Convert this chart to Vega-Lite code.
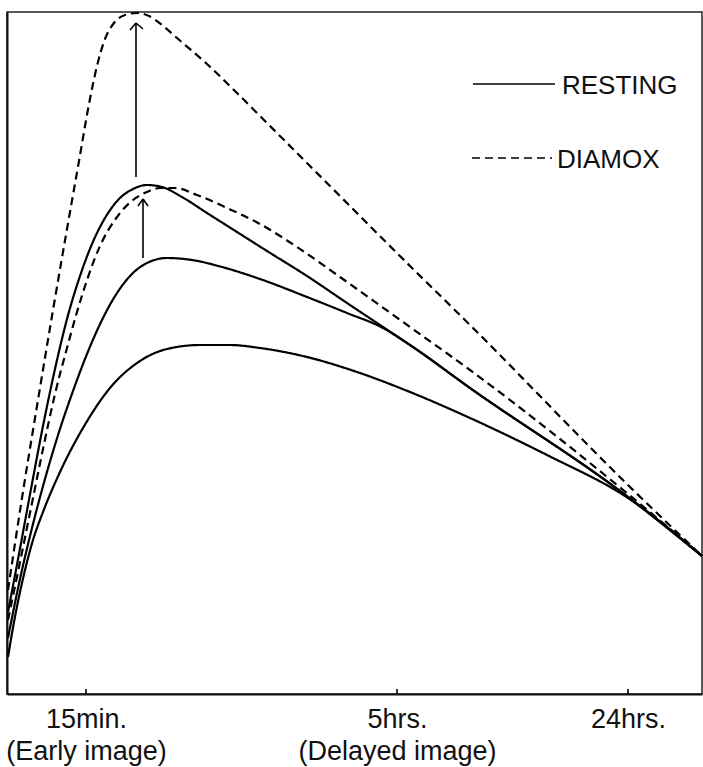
{
  "$schema": "https://vega.github.io/schema/vega-lite/v6.json",
  "width": 695,
  "height": 682,
  "autosize": {"type": "none"},
  "padding": {"left": 7, "top": 12, "right": 1, "bottom": 73},
  "background": "white",
  "config": {
    "view": {"stroke": "#222", "strokeWidth": 1.5},
    "font": "Liberation Sans"
  },
  "datasets": {
    "curves": [
      {"curve": "D1", "type": "DIAMOX", "x": 1, "y": 104},
      {"curve": "D1", "type": "DIAMOX", "x": 15, "y": 196},
      {"curve": "D1", "type": "DIAMOX", "x": 30, "y": 288},
      {"curve": "D1", "type": "DIAMOX", "x": 45, "y": 378},
      {"curve": "D1", "type": "DIAMOX", "x": 60, "y": 465},
      {"curve": "D1", "type": "DIAMOX", "x": 72, "y": 533},
      {"curve": "D1", "type": "DIAMOX", "x": 82, "y": 590},
      {"curve": "D1", "type": "DIAMOX", "x": 90, "y": 628},
      {"curve": "D1", "type": "DIAMOX", "x": 98, "y": 655},
      {"curve": "D1", "type": "DIAMOX", "x": 107, "y": 671},
      {"curve": "D1", "type": "DIAMOX", "x": 118, "y": 679},
      {"curve": "D1", "type": "DIAMOX", "x": 130, "y": 681},
      {"curve": "D1", "type": "DIAMOX", "x": 142, "y": 678},
      {"curve": "D1", "type": "DIAMOX", "x": 155, "y": 669},
      {"curve": "D1", "type": "DIAMOX", "x": 170, "y": 656},
      {"curve": "D1", "type": "DIAMOX", "x": 200, "y": 630},
      {"curve": "D1", "type": "DIAMOX", "x": 230, "y": 601},
      {"curve": "D1", "type": "DIAMOX", "x": 260, "y": 571},
      {"curve": "D1", "type": "DIAMOX", "x": 300, "y": 531},
      {"curve": "D1", "type": "DIAMOX", "x": 403, "y": 428},
      {"curve": "D1", "type": "DIAMOX", "x": 463, "y": 369},
      {"curve": "D1", "type": "DIAMOX", "x": 623, "y": 207},
      {"curve": "D1", "type": "DIAMOX", "x": 695, "y": 138},

      {"curve": "R1", "type": "RESTING", "x": 1, "y": 82},
      {"curve": "R1", "type": "RESTING", "x": 12, "y": 140},
      {"curve": "R1", "type": "RESTING", "x": 24, "y": 205},
      {"curve": "R1", "type": "RESTING", "x": 36, "y": 268},
      {"curve": "R1", "type": "RESTING", "x": 48, "y": 325},
      {"curve": "R1", "type": "RESTING", "x": 60, "y": 375},
      {"curve": "R1", "type": "RESTING", "x": 72, "y": 415},
      {"curve": "R1", "type": "RESTING", "x": 85, "y": 450},
      {"curve": "R1", "type": "RESTING", "x": 98, "y": 476},
      {"curve": "R1", "type": "RESTING", "x": 112, "y": 495},
      {"curve": "R1", "type": "RESTING", "x": 126, "y": 505},
      {"curve": "R1", "type": "RESTING", "x": 140, "y": 509},
      {"curve": "R1", "type": "RESTING", "x": 155, "y": 507},
      {"curve": "R1", "type": "RESTING", "x": 175, "y": 497},
      {"curve": "R1", "type": "RESTING", "x": 200, "y": 481},
      {"curve": "R1", "type": "RESTING", "x": 230, "y": 462},
      {"curve": "R1", "type": "RESTING", "x": 260, "y": 443},
      {"curve": "R1", "type": "RESTING", "x": 300, "y": 418},
      {"curve": "R1", "type": "RESTING", "x": 340, "y": 391},
      {"curve": "R1", "type": "RESTING", "x": 376, "y": 367},
      {"curve": "R1", "type": "RESTING", "x": 403, "y": 349},
      {"curve": "R1", "type": "RESTING", "x": 463, "y": 306},
      {"curve": "R1", "type": "RESTING", "x": 621, "y": 197},
      {"curve": "R1", "type": "RESTING", "x": 695, "y": 138},

      {"curve": "D2", "type": "DIAMOX", "x": 1, "y": 74},
      {"curve": "D2", "type": "DIAMOX", "x": 12, "y": 127},
      {"curve": "D2", "type": "DIAMOX", "x": 24, "y": 186},
      {"curve": "D2", "type": "DIAMOX", "x": 36, "y": 245},
      {"curve": "D2", "type": "DIAMOX", "x": 48, "y": 300},
      {"curve": "D2", "type": "DIAMOX", "x": 60, "y": 346},
      {"curve": "D2", "type": "DIAMOX", "x": 70, "y": 382},
      {"curve": "D2", "type": "DIAMOX", "x": 80, "y": 414},
      {"curve": "D2", "type": "DIAMOX", "x": 93, "y": 448},
      {"curve": "D2", "type": "DIAMOX", "x": 110, "y": 477},
      {"curve": "D2", "type": "DIAMOX", "x": 126, "y": 494},
      {"curve": "D2", "type": "DIAMOX", "x": 140, "y": 502},
      {"curve": "D2", "type": "DIAMOX", "x": 153, "y": 506},
      {"curve": "D2", "type": "DIAMOX", "x": 168, "y": 506},
      {"curve": "D2", "type": "DIAMOX", "x": 190, "y": 499},
      {"curve": "D2", "type": "DIAMOX", "x": 220, "y": 486},
      {"curve": "D2", "type": "DIAMOX", "x": 253, "y": 470},
      {"curve": "D2", "type": "DIAMOX", "x": 290, "y": 447},
      {"curve": "D2", "type": "DIAMOX", "x": 333, "y": 417},
      {"curve": "D2", "type": "DIAMOX", "x": 403, "y": 367},
      {"curve": "D2", "type": "DIAMOX", "x": 463, "y": 324},
      {"curve": "D2", "type": "DIAMOX", "x": 621, "y": 200},
      {"curve": "D2", "type": "DIAMOX", "x": 695, "y": 138},

      {"curve": "R2", "type": "RESTING", "x": 1, "y": 56},
      {"curve": "R2", "type": "RESTING", "x": 13, "y": 115},
      {"curve": "R2", "type": "RESTING", "x": 25, "y": 166},
      {"curve": "R2", "type": "RESTING", "x": 38, "y": 215},
      {"curve": "R2", "type": "RESTING", "x": 52, "y": 262},
      {"curve": "R2", "type": "RESTING", "x": 66, "y": 303},
      {"curve": "R2", "type": "RESTING", "x": 80, "y": 340},
      {"curve": "R2", "type": "RESTING", "x": 95, "y": 374},
      {"curve": "R2", "type": "RESTING", "x": 110, "y": 401},
      {"curve": "R2", "type": "RESTING", "x": 126, "y": 421},
      {"curve": "R2", "type": "RESTING", "x": 140, "y": 431},
      {"curve": "R2", "type": "RESTING", "x": 160, "y": 436},
      {"curve": "R2", "type": "RESTING", "x": 185, "y": 434},
      {"curve": "R2", "type": "RESTING", "x": 215, "y": 427},
      {"curve": "R2", "type": "RESTING", "x": 253, "y": 415},
      {"curve": "R2", "type": "RESTING", "x": 300, "y": 397},
      {"curve": "R2", "type": "RESTING", "x": 340, "y": 381},
      {"curve": "R2", "type": "RESTING", "x": 376, "y": 366},
      {"curve": "R2", "type": "RESTING", "x": 403, "y": 349},
      {"curve": "R2", "type": "RESTING", "x": 463, "y": 306},
      {"curve": "R2", "type": "RESTING", "x": 621, "y": 197},
      {"curve": "R2", "type": "RESTING", "x": 695, "y": 138},

      {"curve": "R3", "type": "RESTING", "x": 1, "y": 37},
      {"curve": "R3", "type": "RESTING", "x": 7, "y": 72},
      {"curve": "R3", "type": "RESTING", "x": 13, "y": 102},
      {"curve": "R3", "type": "RESTING", "x": 19, "y": 128},
      {"curve": "R3", "type": "RESTING", "x": 26, "y": 154},
      {"curve": "R3", "type": "RESTING", "x": 36, "y": 182},
      {"curve": "R3", "type": "RESTING", "x": 53, "y": 222},
      {"curve": "R3", "type": "RESTING", "x": 76, "y": 266},
      {"curve": "R3", "type": "RESTING", "x": 103, "y": 306},
      {"curve": "R3", "type": "RESTING", "x": 133, "y": 333},
      {"curve": "R3", "type": "RESTING", "x": 160, "y": 345},
      {"curve": "R3", "type": "RESTING", "x": 193, "y": 349},
      {"curve": "R3", "type": "RESTING", "x": 223, "y": 349},
      {"curve": "R3", "type": "RESTING", "x": 253, "y": 346},
      {"curve": "R3", "type": "RESTING", "x": 300, "y": 337},
      {"curve": "R3", "type": "RESTING", "x": 350, "y": 322},
      {"curve": "R3", "type": "RESTING", "x": 403, "y": 302},
      {"curve": "R3", "type": "RESTING", "x": 463, "y": 276},
      {"curve": "R3", "type": "RESTING", "x": 540, "y": 239},
      {"curve": "R3", "type": "RESTING", "x": 621, "y": 196},
      {"curve": "R3", "type": "RESTING", "x": 695, "y": 138}
    ],
    "arrows": [
      {"x": 129, "y": 517, "x2": 129, "y2": 671},
      {"x": 123, "y": 664, "x2": 129, "y2": 671},
      {"x": 136, "y": 665, "x2": 129, "y2": 671},
      {"x": 136, "y": 436, "x2": 136, "y2": 495},
      {"x": 131, "y": 488, "x2": 136, "y2": 495},
      {"x": 141, "y": 488, "x2": 136, "y2": 495}
    ],
    "ticks": [
      {"x": 79, "y": 0, "y2": 5},
      {"x": 390, "y": 0, "y2": 5},
      {"x": 621, "y": 0, "y2": 5}
    ],
    "legend": [
      {"label": "RESTING", "type": "RESTING", "x": 466, "x2": 548, "y": 610, "tx": 555, "ty": 600},
      {"label": "DIAMOX", "type": "DIAMOX", "x": 465, "x2": 545, "y": 536, "tx": 550, "ty": 526}
    ]
  },
  "layer": [
    {
      "data": {"name": "curves"},
      "mark": {"type": "line", "interpolate": "monotone", "color": "black", "strokeWidth": 2.2},
      "encoding": {
        "x": {
          "field": "x", "type": "quantitative",
          "scale": {"domain": [0, 695], "nice": false, "zero": false},
          "axis": {
            "values": [79, 390, 621],
            "title": null,
            "grid": false,
            "ticks": false,
            "domainColor": "#111",
            "domainWidth": 2,
            "labelExpr": "datum.value == 79 ? ['15min.', '(Early image)'] : datum.value == 390 ? ['5hrs.', '(Delayed image)'] : ['24hrs.']",
            "labelFont": "Liberation Sans",
            "labelFontSize": 27,
            "labelColor": "#111",
            "labelBaseline": "alphabetic",
            "labelPadding": 33,
            "labelLineHeight": 32,
            "labelLimit": 400,
            "labelOverlap": false,
            "labelBound": false,
            "labelFlush": false
          }
        },
        "y": {
          "field": "y", "type": "quantitative",
          "scale": {"domain": [0, 682], "nice": false, "zero": false},
          "axis": {
            "title": null, "grid": false, "ticks": false, "labels": false,
            "domainColor": "#111", "domainWidth": 2
          }
        },
        "detail": {"field": "curve"},
        "strokeDash": {
          "field": "type", "type": "nominal",
          "scale": {"domain": ["RESTING", "DIAMOX"], "range": [[1, 0], [8, 5]]},
          "legend": null
        }
      }
    },
    {
      "data": {"name": "arrows"},
      "mark": {"type": "rule", "color": "black", "strokeWidth": 1.6},
      "encoding": {
        "x": {"field": "x", "type": "quantitative"},
        "y": {"field": "y", "type": "quantitative"},
        "x2": {"field": "x2"},
        "y2": {"field": "y2"}
      }
    },
    {
      "data": {"name": "ticks"},
      "mark": {"type": "rule", "color": "black", "strokeWidth": 1.6},
      "encoding": {
        "x": {"field": "x", "type": "quantitative"},
        "y": {"field": "y", "type": "quantitative"},
        "y2": {"field": "y2"}
      }
    },
    {
      "data": {"name": "legend"},
      "mark": {"type": "rule", "color": "black", "strokeWidth": 1.6},
      "encoding": {
        "x": {"field": "x", "type": "quantitative"},
        "x2": {"field": "x2"},
        "y": {"field": "y", "type": "quantitative"},
        "strokeDash": {
          "field": "type", "type": "nominal",
          "scale": {"domain": ["RESTING", "DIAMOX"], "range": [[1, 0], [8, 5]]},
          "legend": null
        }
      }
    },
    {
      "data": {"name": "legend"},
      "mark": {"type": "text", "align": "left", "baseline": "alphabetic", "font": "Liberation Sans", "fontSize": 26, "color": "#111"},
      "encoding": {
        "x": {"field": "tx", "type": "quantitative"},
        "y": {"field": "ty", "type": "quantitative"},
        "text": {"field": "label"}
      }
    }
  ]
}
